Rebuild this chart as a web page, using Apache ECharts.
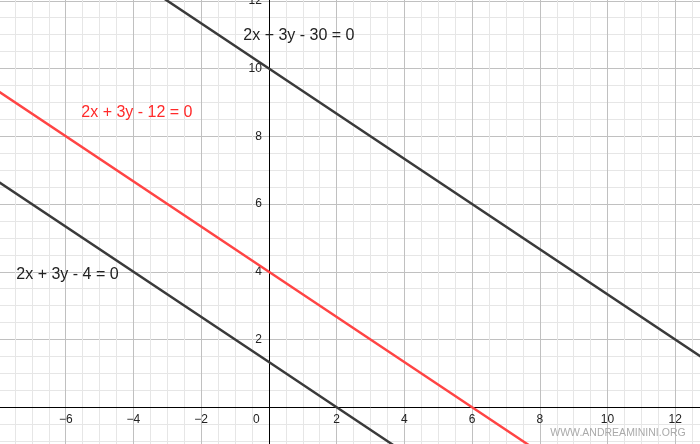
<!DOCTYPE html>
<html><head><meta charset="utf-8">
<script src="https://cdn.jsdelivr.net/npm/echarts@6/dist/echarts.min.js"></script>
<style>
html,body{margin:0;padding:0;background:#fff;overflow:hidden;width:700px;height:444px;position:relative}
#c{position:absolute;left:-2.3px;top:-66.9px;width:745px;height:542px}
</style>
</head><body><div id="c"></div>
<script>
// Points (intercepts, plus points beyond the visible window)
var line30X = [-9, 0, 15];
var line30Y = [16, 10, 0];
var line12X = [-9, 0, 6, 9];
var line12Y = [10, 4, 0, -2];
var line4X = [-9, 0, 2, 5];
var line4Y = [7.3333, 1.3333, 0, -2];
var labels = ['2x + 3y - 30 = 0', '2x + 3y - 12 = 0', '2x + 3y - 4 = 0'];
var watermark = 'WWW.ANDREAMININI.ORG';

function pts(xs, ys){ return xs.map(function(x,i){ return [x, ys[i]]; }); }
var OX = 2.3, OY = 66.9; // container offset (page px -> chart px)
var XMIN = -8, XMAX = 14, YMIN = -2, YMAX = 14;
var W = 745, H = 542;
var xu = W / (XMAX - XMIN), yu = H / (YMAX - YMIN);
function fmt(v){ return String(v).replace('-', '\u2212'); }

var chart = echarts.init(document.getElementById('c'), null, {renderer:'canvas', width: W, height: H});
var axisCommon = {
  type: 'value',
  interval: 2,
  axisTick: {show: false},
  minorTick: {show: false, splitNumber: 4},
  splitLine: {show: true, lineStyle: {color: '#c0c0c0', width: 1}},
  minorSplitLine: {show: true, lineStyle: {color: '#e6e6e6', width: 1}}
};
function txt(s, x, y, color, size){
  return {type: 'text', left: x + OX, top: y + OY, z: 100,
    style: {text: s, fill: color, fontSize: size, fontFamily: 'Liberation Sans'}};
}
chart.setOption({
  animation: false,
  backgroundColor: '#fff',
  grid: {left: 0, right: 0, top: 0, bottom: 0, outerBoundsMode: 'none', containLabel: false},
  xAxis: Object.assign({}, axisCommon, {
    min: XMIN, max: XMAX, position: 'bottom',
    offset: -(0 - YMIN) * yu,
    axisLine: {onZero: false, lineStyle: {color: '#000', width: 1}},
    axisLabel: {
      margin: 6, color: '#222', fontSize: 12, fontFamily: 'Liberation Sans',
      formatter: function(v){ if (v === XMIN || v === XMAX) return ''; if (v === 0) return '{o|0}'; return fmt(v); },
      rich: {o: {padding: [0, 25, 0, 0], color: '#222', fontSize: 12, fontFamily: 'Liberation Sans'}}
    }
  }),
  yAxis: Object.assign({}, axisCommon, {
    min: YMIN, max: YMAX, position: 'left',
    offset: -(0 - XMIN) * xu,
    axisLine: {onZero: false, lineStyle: {color: '#000', width: 1}},
    axisLabel: {
      margin: 7, color: '#222', fontSize: 12, fontFamily: 'Liberation Sans',
      formatter: function(v){ if (v === 0 || v === YMIN || v === YMAX) return ''; return fmt(v); }
    }
  }),
  series: [
    {type: 'line', data: pts(line30X, line30Y), symbol: 'none', lineStyle: {color: '#3a3a3a', width: 2.5}},
    {type: 'line', data: pts(line12X, line12Y), symbol: 'none', lineStyle: {color: '#ff4444', width: 2.5}},
    {type: 'line', data: pts(line4X, line4Y), symbol: 'none', lineStyle: {color: '#3a3a3a', width: 2.5}}
  ],
  graphic: [
    txt(labels[0], 243, 28, '#222', 16),
    txt(labels[1], 81, 105, '#ff2a2a', 16),
    txt(labels[2], 16, 267, '#222', 16),
    txt(watermark, 550, 428, '#aaaaaa', 10.5)
  ]
});
</script></body></html>
